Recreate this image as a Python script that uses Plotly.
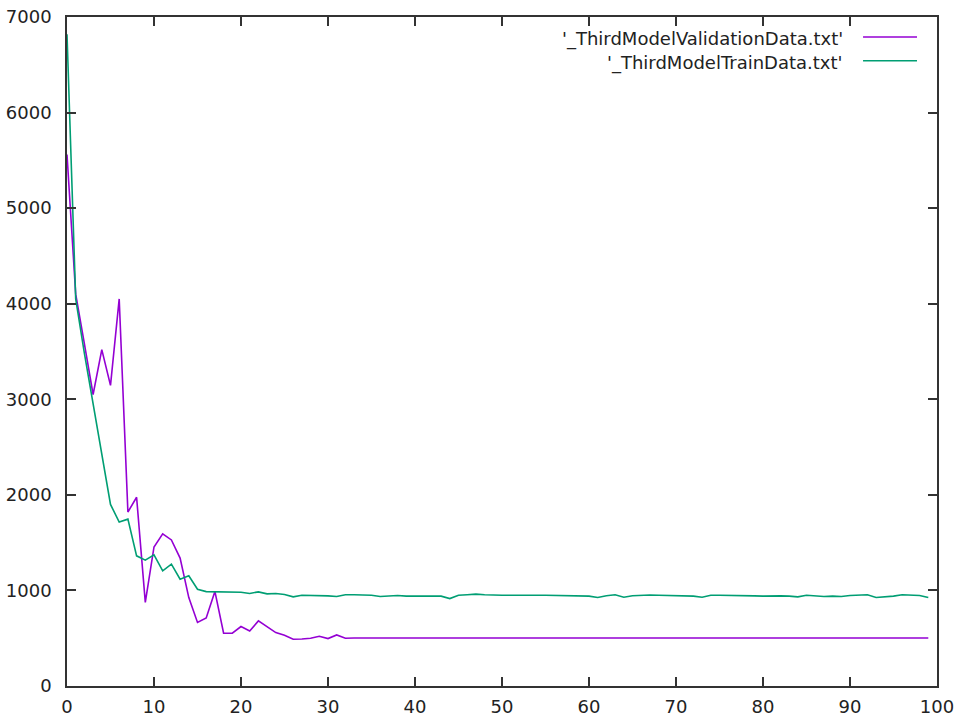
import plotly.graph_objects as go

# Epoch index and loss values for the two runs
epochs = list(range(100))

validation_loss = [
    5560, 4100, 3580, 3050, 3520, 3145, 4050, 1820, 1975, 875,
    1455, 1592, 1528, 1338, 925, 665, 712, 990, 552, 552,
    622, 576, 681, 618, 559, 531, 489, 492, 500, 521,
    496, 534, 500, 503, 503, 506, 503, 503, 503, 503,
    503, 503, 503, 503, 503, 503, 503, 503, 503, 503,
    503, 503, 503, 503, 503, 503, 503, 503, 503, 503,
    503, 503, 503, 503, 503, 503, 503, 503, 503, 503,
    503, 503, 503, 503, 503, 503, 503, 503, 503, 503,
    503, 503, 503, 503, 503, 503, 503, 503, 503, 503,
    503, 503, 503, 503, 503, 503, 503, 503, 503, 503,
]

train_loss = [
    6820, 4050, 3480, 2950, 2390, 1900, 1715, 1746, 1362, 1317,
    1373, 1205, 1275, 1118, 1153, 1013, 988, 988, 985, 981,
    981, 968, 985, 964, 968, 957, 933, 950, 947, 950,
    943, 936, 954, 954, 954, 950, 936, 943, 947, 940,
    940, 943, 943, 940, 915, 950, 955, 961, 954, 950,
    950, 950, 952, 952, 950, 950, 948, 950, 947, 947,
    940, 926, 945, 955, 929, 945, 950, 952, 950, 947,
    943, 943, 940, 929, 950, 950, 950, 950, 947, 943,
    940, 943, 943, 940, 933, 950, 943, 936, 940, 936,
    947, 954, 954, 926, 930, 940, 954, 952, 947, 926,
]

series_names = ["'_ThirdModelValidationData.txt'", "'_ThirdModelTrainData.txt'"]
series_colors = ["#9400D3", "#009E73"]

x_ticks = [0, 10, 20, 30, 40, 50, 60, 70, 80, 90, 100]
y_ticks = [0, 1000, 2000, 3000, 4000, 5000, 6000, 7000]

FONT = "DejaVu Sans"
FONT_SIZE = 18
TEXT_COLOR = "#222222"
AXIS_COLOR = "#333333"

fig = go.Figure()
for ys, name, color in zip([validation_loss, train_loss], series_names, series_colors):
    fig.add_trace(go.Scatter(
        x=epochs, y=ys, mode="lines", name=name,
        line=dict(color=color, width=1.6),
        showlegend=False,
    ))

# Key in the top-right corner: right-aligned label followed by a line sample
key_rows = [0.967, 0.9317]
for name, color, ky in zip(series_names, series_colors, key_rows):
    fig.add_annotation(
        xref="paper", yref="paper", x=0.8943, y=ky,
        text=name, showarrow=False, xanchor="right", yanchor="middle",
        font=dict(family=FONT, size=FONT_SIZE, color=TEXT_COLOR),
    )
    fig.add_shape(
        type="line", xref="paper", yref="paper",
        x0=0.915, x1=0.977, y0=ky + 0.003, y1=ky + 0.003,
        line=dict(color=color, width=1.6),
    )

axis_common = dict(
    showline=True, linecolor=AXIS_COLOR, linewidth=1.5, mirror="allticks",
    ticks="inside", ticklen=9, tickwidth=1.5, tickcolor=AXIS_COLOR,
    showgrid=False, zeroline=False, automargin=False,
    tickfont=dict(family=FONT, size=FONT_SIZE, color=TEXT_COLOR),
)

fig.update_xaxes(range=[0, 100], tickvals=x_ticks, ticklabelstandoff=4, **axis_common)
fig.update_yaxes(range=[0, 7000], tickvals=y_ticks, ticklabelstandoff=10, **axis_common)

fig.update_layout(
    width=961, height=722,
    margin=dict(l=67, r=24, t=17, b=36),
    paper_bgcolor="white", plot_bgcolor="white",
    font=dict(family=FONT, size=FONT_SIZE, color=TEXT_COLOR),
)

fig.write_html("out.html")
